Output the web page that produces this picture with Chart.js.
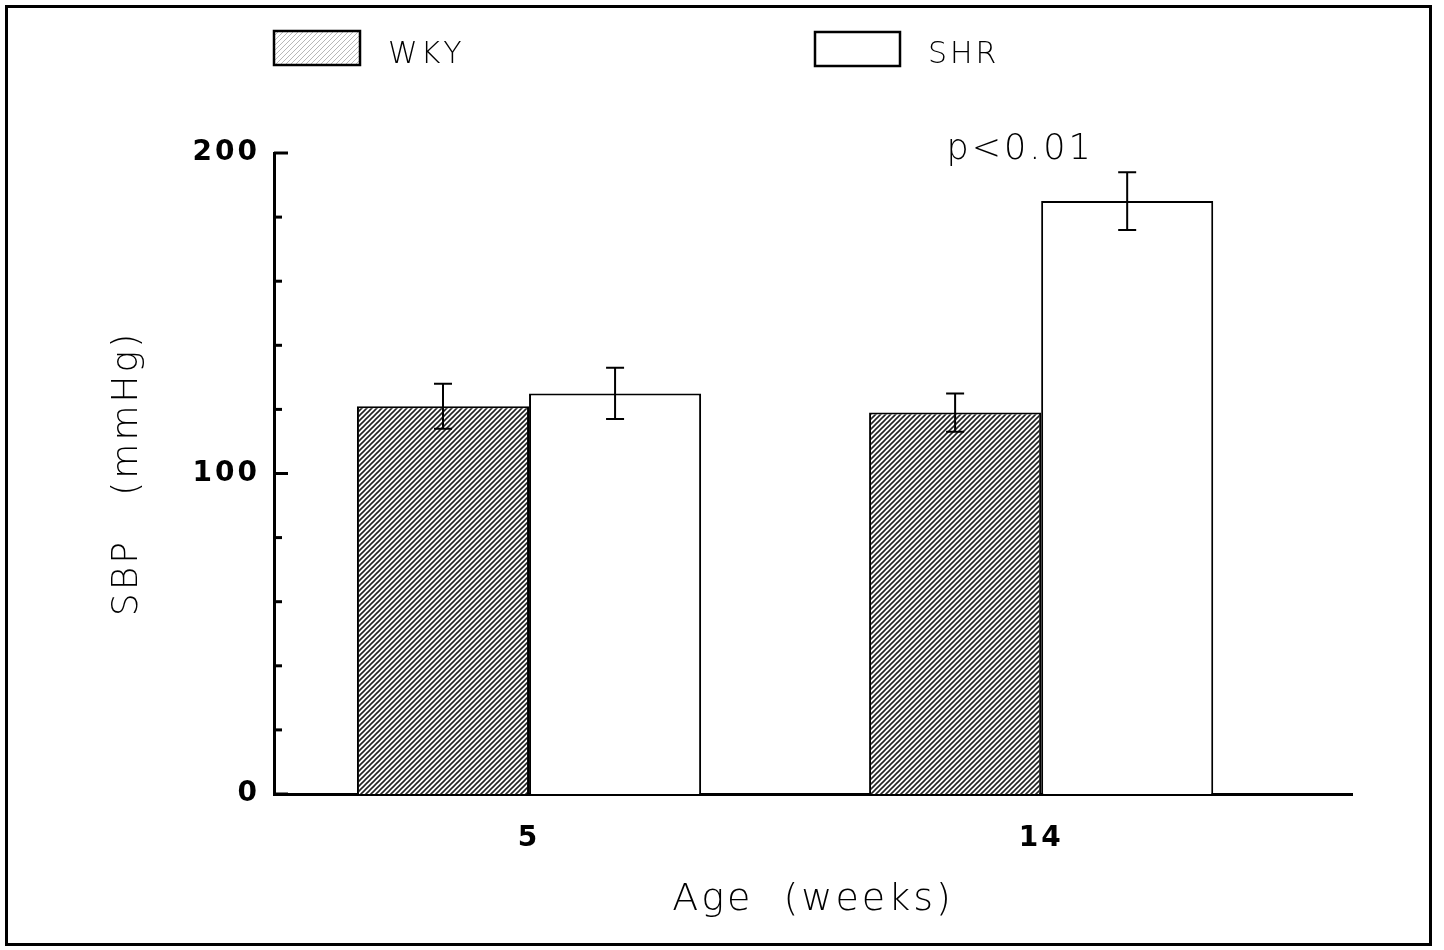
<!DOCTYPE html>
<html>
<head>
<meta charset="utf-8">
<script src="https://cdn.jsdelivr.net/npm/chart.js@4.4.0/dist/chart.umd.min.js"></script>
<style>
html, body { margin: 0; padding: 0; background: #fff; }
</style>
</head>
<body>
<canvas id="myChart" width="1444" height="950"></canvas>
<script>
// ages on the x axis (weeks)
var ages = ['5', '14'];
var agePos = [0, 1];

// systolic blood pressure, mmHg
var wkyMean = [121, 119];
var wkyErr = [7, 6];
var shrMean = [125, 185];
var shrErr = [8, 9];

var seriesNames = ['WKY', 'SHR'];
var yMajorTicks = [0, 100, 200];
var yMinorTicks = [20, 40, 60, 80, 120, 140, 160, 180];
var noteText = 'p<0.01';

var thinFont = '"DejaVu Sans"';

function makeHatch(color, gap, lw) {
    var c = document.createElement('canvas');
    c.width = gap;
    c.height = gap;
    var g = c.getContext('2d');
    g.fillStyle = '#fff';
    g.fillRect(0, 0, gap, gap);
    g.strokeStyle = color;
    g.lineWidth = lw;
    g.beginPath();
    g.moveTo(0, gap); g.lineTo(gap, 0);
    g.moveTo(-gap / 2, gap / 2); g.lineTo(gap / 2, -gap / 2);
    g.moveTo(gap / 2, gap * 1.5); g.lineTo(gap * 1.5, gap / 2);
    g.stroke();
    return g.createPattern(c, 'repeat');
}

var ctx = document.getElementById('myChart').getContext('2d');
var hatch = makeHatch('#222', 5, 1.6);
var lightHatch = makeHatch('#b8b8b8', 5, 1);

function toPoints(means) {
    var pts = [];
    for (var i = 0; i < means.length; i++) {
        pts.push({x: agePos[i], y: means[i]});
    }
    return pts;
}

var extras = {
    id: 'extras',
    beforeDraw: function (chart) {
        chart.ctx.letterSpacing = '3px';
    },
    afterDatasetsDraw: function (chart) {
        var c = chart.ctx;
        var xs = chart.scales.x;
        var ys = chart.scales.y;
        var errs = [wkyErr, shrErr];
        var means = [wkyMean, shrMean];

        // error bars
        c.save();
        c.strokeStyle = '#000';
        c.lineWidth = 2;
        for (var d = 0; d < 2; d++) {
            var meta = chart.getDatasetMeta(d);
            for (var i = 0; i < meta.data.length; i++) {
                var bx = meta.data[i].x;
                var top = ys.getPixelForValue(means[d][i] + errs[d][i]);
                var bot = ys.getPixelForValue(means[d][i] - errs[d][i]);
                c.beginPath();
                c.moveTo(bx, top); c.lineTo(bx, bot);
                c.moveTo(bx - 9, top); c.lineTo(bx + 9, top);
                c.moveTo(bx - 9, bot); c.lineTo(bx + 9, bot);
                c.stroke();
            }
        }

        // y ticks pointing into the plot
        c.lineWidth = 3;
        var ax = chart.chartArea.left;
        yMajorTicks.forEach(function (v) {
            var py = ys.getPixelForValue(v);
            c.beginPath(); c.moveTo(ax, py); c.lineTo(ax + 14, py); c.stroke();
        });
        yMinorTicks.forEach(function (v) {
            var py = ys.getPixelForValue(v);
            c.beginPath(); c.moveTo(ax, py); c.lineTo(ax + 8, py); c.stroke();
        });

        // significance note
        c.fillStyle = '#000';
        c.font = '200 35px ' + thinFont;
        c.textAlign = 'center';
        c.textBaseline = 'middle';
        c.fillText(noteText, xs.getPixelForValue(agePos[1]) - 21, 150);

        // legend
        c.lineWidth = 2.5;
        c.fillStyle = lightHatch;
        c.fillRect(274, 31, 86, 34);
        c.strokeRect(274, 31, 86, 34);
        c.fillStyle = '#fff';
        c.fillRect(815, 32, 85, 34);
        c.strokeRect(815, 32, 85, 34);
        c.fillStyle = '#000';
        c.font = '200 30px ' + thinFont;
        c.textAlign = 'left';
        c.fillText(seriesNames[0], 388, 55);
        c.fillText(seriesNames[1], 928, 55);

        // frame
        c.lineWidth = 3;
        c.strokeRect(6.5, 6.5, 1424, 938);
        c.restore();
    }
};

var myChart = new Chart(ctx, {
    type: 'bar',
    data: {
        datasets: [{
            label: seriesNames[0],
            data: toPoints(wkyMean),
            backgroundColor: hatch,
            borderColor: '#000',
            borderWidth: 2
        }, {
            label: seriesNames[1],
            data: toPoints(shrMean),
            backgroundColor: '#fff',
            borderColor: '#000',
            borderWidth: 2
        }]
    },
    options: {
        responsive: false,
        animation: false,
        categoryPercentage: 0.672,
        barPercentage: 1,
        layout: {padding: {left: 0, top: 153, right: 92, bottom: 0}},
        plugins: {legend: {display: false}, tooltip: {enabled: false}},
        scales: {
            x: {
                type: 'linear',
                offset: false,
                min: -0.498,
                max: 1.607,
                grid: {display: false, drawTicks: false, offset: false},
                border: {display: true, color: '#000', width: 3},
                afterBuildTicks: function (scale) {
                    scale.ticks = agePos.map(function (v) { return {value: v}; });
                },
                afterFit: function (scale) { scale.height = 156; },
                ticks: {
                    padding: 28,
                    color: '#000',
                    font: {family: '"DejaVu Sans"', size: 28, weight: 'bold'},
                    callback: function (v) { return ages[agePos.indexOf(v)]; }
                },
                title: {
                    display: true,
                    text: 'Age  (weeks)',
                    color: '#000',
                    font: {family: thinFont, size: 38, weight: '200'},
                    padding: {top: 0, bottom: 27}
                }
            },
            y: {
                min: 0,
                max: 200,
                grid: {display: false, drawTicks: false},
                border: {display: true, color: '#000', width: 3},
                afterBuildTicks: function (scale) {
                    scale.ticks = yMajorTicks.map(function (v) { return {value: v}; });
                },
                afterFit: function (scale) { scale.width = 274; },
                ticks: {
                    padding: 14,
                    color: '#000',
                    font: {family: '"DejaVu Sans"', size: 28, weight: 'bold'}
                },
                title: {
                    display: true,
                    text: 'SBP   (mmHg)',
                    color: '#000',
                    font: {family: thinFont, size: 36, weight: '200'},
                    padding: {top: 106, bottom: 0}
                }
            }
        }
    },
    plugins: [extras]
});
</script>
</body>
</html>
